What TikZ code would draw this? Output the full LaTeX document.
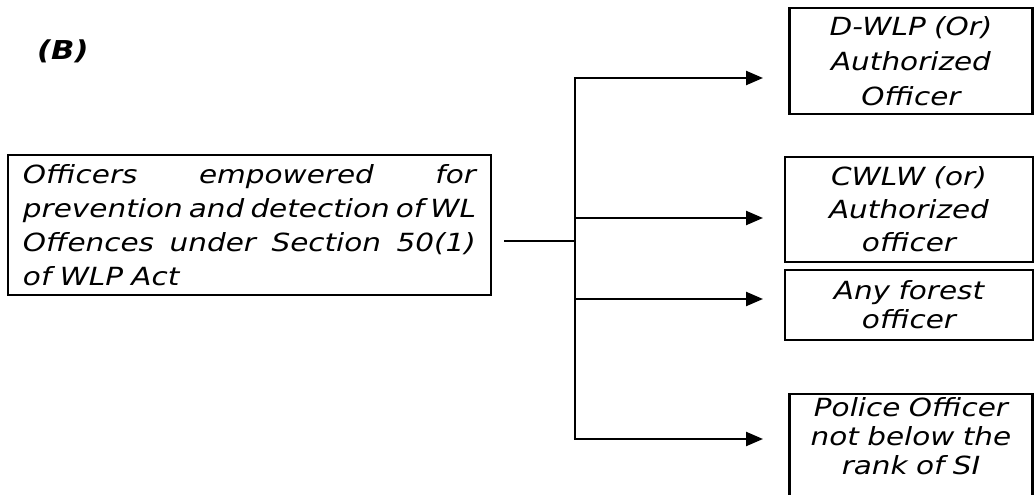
\documentclass[tikz,border=0pt]{standalone}
\usepackage{fontspec}
\setmainfont{DejaVu Sans}[FakeStretch=1.18]
\usetikzlibrary{arrows.meta}
\newcommand\jsp{\hskip\fontdimen2\font plus 1fill minus 1fill\relax}
\newcommand\jline[1]{\hbox to 453pt{#1}}
\begin{document}
\begin{tikzpicture}[x=1pt,y=-1pt,
  box/.style={draw,line width=2.3pt,inner sep=0pt,align=center,font=\itshape\fontsize{25}{33}\selectfont},
  conn/.style={line width=2.3pt},
  arr/.style={conn,-{Triangle[length=17pt,width=14pt]}}]
\useasboundingbox[fill=white] (0,0) rectangle (1034,495);
\begin{scope}
\clip (0,0) rectangle (1034,495);
\node (lbl) [font=\bfseries\itshape\fontsize{26}{30}\selectfont,anchor=base west,inner sep=0pt] at (37,60) {(B)};
\node (src) [box,minimum width=483pt,minimum height=140pt,text width=453pt,align=left,
  font=\itshape\fontsize{25}{34}\selectfont] at (249.5,225)
  {\leavevmode\jline{Officers\jsp empowered\jsp for}\\
   \leavevmode\jline{prevention\jsp and\jsp detection\jsp of\jsp WL}\\
   \leavevmode\jline{Offences\jsp under\jsp Section\jsp 50(1)}\\
   of WLP Act};
\node (b1) [box,minimum width=243pt,minimum height=106pt,text width=235pt,
  font=\itshape\fontsize{25}{35}\selectfont] at (911,61)
  {D-WLP (Or)\\Authorized\\Officer};
\node (b2) [box,minimum width=248pt,minimum height=105pt,text width=240pt] at (909,209.5)
  {CWLW (or)\\Authorized\\officer};
\node (b3) [box,minimum width=248pt,minimum height=70pt,text width=240pt,
  font=\itshape\fontsize{25}{29}\selectfont] at (909,305)
  {Any forest\\officer};
\node (b4) [box,minimum width=243pt,text width=235pt,anchor=north,inner ysep=3pt,
  font=\itshape\fontsize{25}{29}\selectfont] at (911,393)
  {Police Officer\\not below the\\rank of SI\rule[-30pt]{0pt}{30pt}};
\coordinate (s0) at (504,241);
\coordinate (jn) at (575,241);
\coordinate (v1) at (575,78);
\coordinate (v2) at (575,218);
\coordinate (v3) at (575,299);
\coordinate (v4) at (575,439);
\coordinate (t1) at (763,78);
\coordinate (t2) at (763,218);
\coordinate (t3) at (763,299);
\coordinate (t4) at (763,439);
\draw[conn] (s0) -- (jn);
\draw[conn] ([yshift=-1.15pt]v1) -- ([yshift=1.15pt]v4);
\draw[arr] ([xshift=-1.15pt]v1) -- (t1);
\draw[arr] (v2) -- (t2);
\draw[arr] (v3) -- (t3);
\draw[arr] ([xshift=-1.15pt]v4) -- (t4);
\end{scope}
\end{tikzpicture}
\end{document}
